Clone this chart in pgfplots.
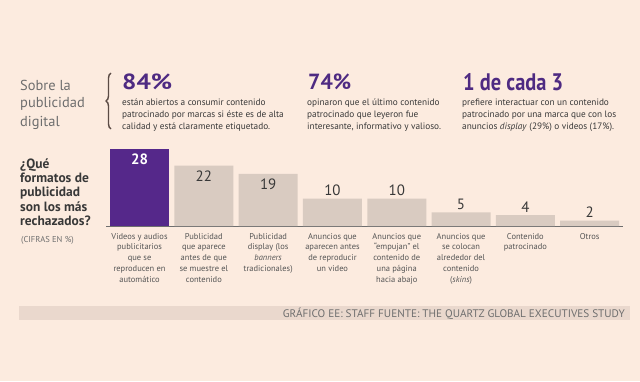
\documentclass[border=0pt]{standalone}
\usepackage{pgfplots}
\pgfplotsset{compat=1.18}
\usepackage{fontspec}
\setmainfont{PT Sans}
\usetikzlibrary{decorations.pathreplacing}
\definecolor{bg}{HTML}{FCEBDF}
\definecolor{purp}{HTML}{55288A}
\definecolor{hpurp}{HTML}{4E2A82}
\definecolor{beige}{HTML}{D9CBC1}
\definecolor{band}{HTML}{EAD8CD}
\definecolor{txt}{HTML}{383838}
\definecolor{grayt}{HTML}{6E6E6E}
\definecolor{lbl}{HTML}{555555}
\definecolor{bracec}{HTML}{5B4B45}
\newcommand{\fs}[2]{\fontsize{#1}{#2}\selectfont}
\newcommand{\tl}[4][]{\node[anchor=base west, inner sep=0pt, #1] at (#2,{381-#3}) {#4};}
\begin{document}
\begin{tikzpicture}[x=1bp,y=1bp]
\useasboundingbox (0,0) rectangle (640,381);
\fill[bg] (0,0) rectangle (640,381);
% left title
\begin{scope}[every node/.style={text=grayt, font=\fs{14.5}{18}}]
\tl{20}{90}{Sobre la}
\tl{20}{107.5}{publicidad}
\tl{20}{126.5}{digital}
\end{scope}
\draw[bracec, line width=1.4pt, decorate, decoration={brace, amplitude=5bp}] (111,{381-129}) -- (111,{381-73});
% headlines
\tl[text=hpurp]{122}{89.3}{\resizebox{50bp}{\height}{\fs{22}{22}\bfseries 84\%}}
\tl[text=hpurp]{308}{89.3}{\resizebox{43bp}{\height}{\fs{22}{22}\bfseries 74\%}}
\tl[text=hpurp]{463}{90}{\resizebox{100bp}{\height}{\fs{24}{24}\bfseries 1 de cada 3}}
\begin{scope}[every node/.style={text=txt, font=\fs{9.3}{12}}]
\tl{122}{105.3}{están abiertos a consumir contenido}
\tl{122}{117.3}{patrocinado por marcas si éste es de alta}
\tl{122}{129.3}{calidad y está claramente etiquetado.}
\tl{307}{105.3}{opinaron que el último contenido}
\tl{307}{117.3}{patrocinado que leyeron fue}
\tl{307}{129.3}{interesante, informativo y valioso.}
\tl{462}{105.3}{prefiere interactuar con un contenido}
\tl{462}{117.3}{patrocinado por una marca que con los}
\tl{462}{129.3}{anuncios \textit{display} (29\%) o videos (17\%).}
\end{scope}
% question
\begin{scope}[every node/.style={text=txt, font=\fs{13.5}{14}\bfseries}]
\tl{20}{168}{¿Qué}
\tl{20}{182.3}{formatos de}
\tl{20}{196.7}{publicidad}
\tl{20}{211}{son los más}
\tl{20}{225.3}{rechazados?}
\end{scope}
\tl[text=grayt, font=\fs{8.6}{9}]{21}{242.7}{(CIFRAS EN \%)}
% footer
\fill[band] (19,{381-320}) rectangle (630,{381-306});
\node[anchor=base east, inner sep=0pt, text=grayt] at (625,{381-317.8}) {\resizebox{342bp}{\height}{\fs{11}{11}GRÁFICO EE: STAFF FUENTE: THE QUARTZ GLOBAL EXECUTIVES STUDY}};
% chart
\begin{axis}[
  at={(106.1bp,155bp)}, anchor=south west,
  scale only axis, width=517bp, height=82.5bp,
  xmin=-0.52, xmax=7.52, ymin=0, ymax=30,
  axis x line*=bottom, axis y line=none,
  axis line style={-, draw=grayt, line width=0.9pt},
  xtick={0,1,2,3,4,5,6,7},
  major tick length=0pt,
  /pgf/number format/assume math mode=true,
  xticklabels={Videos y audios\\publicitarios\\que se\\reproducen en\\automático,
    Publicidad\\que aparece\\antes de que\\se muestre el\\contenido,
    Publicidad\\display (los\\\textit{banners}\\tradicionales),
    Anuncios que\\aparecen antes\\de reproducir\\un video,
    Anuncios que\\``empujan'' el\\contenido de\\una página\\hacia abajo,
    Anuncios que\\se colocan\\alrededor del\\contenido\\(\textit{skins}),
    Contenido\\patrocinado,
    Otros},
  xticklabel style={font=\fs{8.5}{10.8}, text=lbl, align=center, inner sep=0pt, anchor=north, yshift=-7bp},
  clip=false,
]
\addplot[ybar, bar width=59bp, fill=purp, draw=none,
  nodes near coords,
  every node near coord/.append style={font=\fs{15}{15}\bfseries, text=white, inner sep=0pt, yshift=-16.3bp}]
  coordinates {(0,28)};
\addplot[ybar, bar width=59bp, fill=beige, draw=none,
  nodes near coords,
  every node near coord/.append style={font=\fs{15}{15}, text=txt, inner sep=0pt, yshift=-16.3bp}]
  coordinates {(1,22) (2,19)};
\addplot[ybar, bar width=59bp, fill=beige, draw=none,
  nodes near coords,
  every node near coord/.append style={font=\fs{15}{15}, text=txt, inner sep=0pt, yshift=2.8bp}]
  coordinates {(3,10) (4,10) (5,5) (6,4) (7,2)};
\end{axis}
\end{tikzpicture}
\end{document}
